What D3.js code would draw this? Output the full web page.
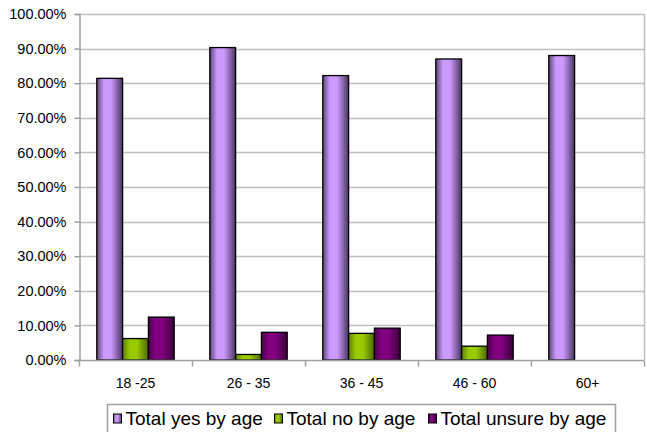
<!DOCTYPE html>
<html>
<head>
<meta charset="utf-8">
<script src="https://cdn.jsdelivr.net/npm/d3@7"></script>
<style>
  html, body { margin: 0; padding: 0; background: #fff; }
  svg { display: block; font-family: "Liberation Sans", Arial, sans-serif; }
  svg text { font-family: "Liberation Sans", Arial, sans-serif; }
</style>
</head>
<body>
<svg id="chart" width="647" height="432"></svg>
<script>
// Age groups and share of answers per group
const categories = ["18 -25", "26 - 35", "36 - 45", "46 - 60", "60+"];
const seriesNames = ["Total yes by age", "Total no by age", "Total unsure by age"];
const yesValues = [0.814, 0.903, 0.822, 0.870, 0.880];
const noValues = [0.062, 0.016, 0.077, 0.040, 0];
const unsureValues = [0.124, 0.080, 0.092, 0.072, 0];
const yTicks = [0, 0.1, 0.2, 0.3, 0.4, 0.5, 0.6, 0.7, 0.8, 0.9, 1.0];

const seriesValues = [yesValues, noValues, unsureValues];
const colors = [
  { dark: "#5e4679", mid: "#cc99ff", end: "#4a3760" },
  { dark: "#5f7d00", mid: "#99cc00", end: "#4d6600" },
  { dark: "#4a004a", mid: "#800080", end: "#3a003a" }
];

const svg = d3.select("#chart");
const margin = { left: 79, right: 3, top: 14, bottom: 72 };
const W = 647, H = 432;
const plotW = W - margin.left - margin.right;
const plotH = H - margin.top - margin.bottom;

const defs = svg.append("defs");
colors.forEach((c, i) => {
  const g = defs.append("linearGradient").attr("id", "grad" + i)
    .attr("x1", "0%").attr("x2", "100%").attr("y1", "0%").attr("y2", "0%");
  g.append("stop").attr("offset", "0%").attr("stop-color", c.dark);
  g.append("stop").attr("offset", "28%").attr("stop-color", c.mid);
  g.append("stop").attr("offset", "55%").attr("stop-color", c.mid);
  g.append("stop").attr("offset", "100%").attr("stop-color", c.end);
});

const x0 = d3.scaleBand().domain(categories).range([0, plotW]).paddingInner(0).paddingOuter(0);
const x1 = d3.scaleBand().domain(d3.range(seriesNames.length))
  .range([0, x0.bandwidth()]).paddingInner(0).paddingOuter(0.69);
const y = d3.scaleLinear().domain([0, 1]).range([plotH, 0]);

const plot = svg.append("g").attr("transform", `translate(${margin.left},${margin.top})`);

// gridlines
plot.append("g").selectAll("line").data(yTicks.slice(1)).join("line")
  .attr("x1", 0).attr("x2", plotW)
  .attr("y1", d => Math.round(y(d)) + 0.5).attr("y2", d => Math.round(y(d)) + 0.5)
  .attr("stroke", "#c0c0c0").attr("stroke-width", 1.5);

// right border of plot area
plot.append("line").attr("x1", plotW + 0.5).attr("x2", plotW + 0.5)
  .attr("y1", 0).attr("y2", plotH).attr("stroke", "#c0c0c0").attr("stroke-width", 1.5);

// y axis
const yAxis = d3.axisLeft(y).tickValues(yTicks).tickSize(5).tickPadding(8)
  .tickFormat(d => (d * 100).toFixed(2) + "%");
const ya = plot.append("g").attr("transform", "translate(0.5,0)").call(yAxis)
  .attr("font-size", null).attr("font-family", null);
ya.select(".domain").attr("stroke", "#a0a0a0").attr("stroke-width", 1.5);
ya.selectAll(".tick line").attr("stroke", "#a0a0a0").attr("stroke-width", 1.5);
ya.selectAll(".tick text").style("font-size", "14.5px").attr("fill", "#000");

// bars
const groups = plot.append("g").selectAll("g").data(categories).join("g")
  .attr("transform", d => `translate(${x0(d)},0)`);
groups.selectAll("rect")
  .data((d, ci) => seriesValues.map((vals, si) => ({ si, v: vals[ci] })).filter(e => e.v > 0))
  .join("rect")
  .attr("x", e => x1(e.si))
  .attr("width", x1.bandwidth())
  .attr("y", e => y(e.v))
  .attr("height", e => plotH - y(e.v))
  .attr("fill", e => `url(#grad${e.si})`)
  .attr("stroke", "#000").attr("stroke-width", 1.3);

// x axis
const xa = plot.append("g").attr("transform", `translate(0,${plotH + 0.5})`);
xa.append("line").attr("x1", 0).attr("x2", plotW).attr("stroke", "#a0a0a0").attr("stroke-width", 1.5);
xa.selectAll(".xtick").data(d3.range(categories.length + 1)).join("line")
  .attr("x1", i => Math.round(i * x0.step()) + 0.5).attr("x2", i => Math.round(i * x0.step()) + 0.5)
  .attr("y1", 0).attr("y2", 6).attr("stroke", "#a0a0a0").attr("stroke-width", 1.5);
xa.selectAll("text").data(categories).join("text")
  .attr("x", d => x0(d) + x0.bandwidth() / 2).attr("y", 27)
  .attr("text-anchor", "middle").style("font-size", "14px").text(d => d);

// legend
const legend = svg.append("g").attr("transform", "translate(107.5,404.5)");
legend.append("rect").attr("width", 508).attr("height", 40)
  .attr("fill", "#fff").attr("stroke", "#a0a0a0").attr("stroke-width", 1.5);
const itemX = [6, 167, 321];
seriesNames.forEach((name, i) => {
  const it = legend.append("g").attr("transform", `translate(${itemX[i]},0)`);
  it.append("rect").attr("x", 0).attr("y", 9.5).attr("width", 8).attr("height", 9)
    .attr("fill", `url(#grad${i})`).attr("stroke", "#000").attr("stroke-width", 1);
  it.append("text").attr("x", 12).attr("y", 20.5).style("font-size", "19px").text(name);
});
</script>
</body>
</html>
